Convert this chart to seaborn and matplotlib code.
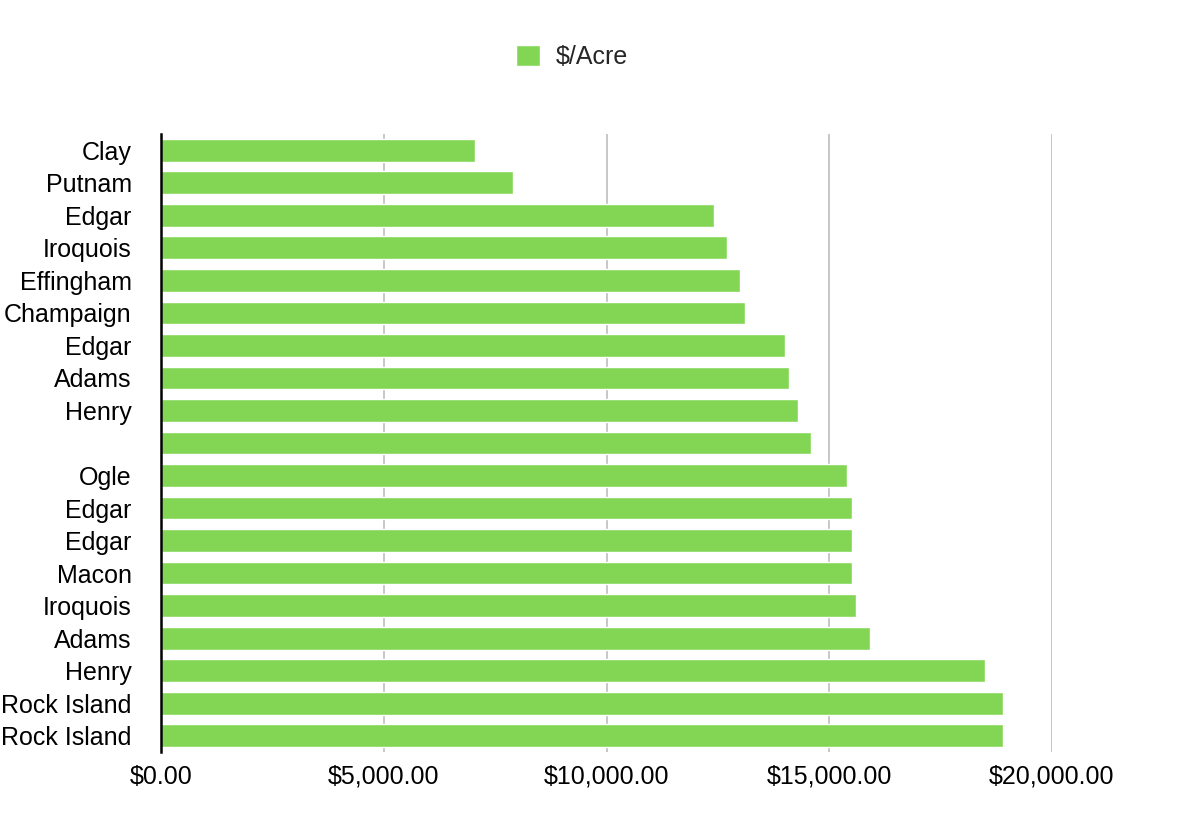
import numpy as np
import matplotlib
matplotlib.use("Agg")
import matplotlib.pyplot as plt
from matplotlib.ticker import FuncFormatter
import pandas as pd
import seaborn as sns

counties = ['Clay', 'Putnam', 'Edgar', 'Iroquois', 'Effingham', 'Champaign',
            'Edgar', 'Adams', 'Henry', '', 'Ogle', 'Edgar', 'Edgar', 'Macon',
            'Iroquois', 'Adams', 'Henry', 'Rock Island', 'Rock Island']
price_per_acre = [7045, 7900, 12410, 12700, 12990, 13100,
                  14000, 14090, 14290, 14580, 15390, 15500, 15500, 15500,
                  15590, 15910, 18490, 18890, 18890]
x_ticks = [0, 5000, 10000, 15000, 20000]
series_name = '$/Acre'

bar_color = '#83D654'

sns.set_theme(style='white')
plt.rcParams['font.family'] = ['Liberation Sans', 'DejaVu Sans']

df = pd.DataFrame({'row': [str(i) for i in range(len(counties))],
                   'value': price_per_acre})

fig = plt.figure(figsize=(12.02, 8.30), dpi=100)
ax = fig.add_axes([161 / 1202, 1 - 752 / 830, (1052 - 161) / 1202, (752 - 134) / 830])

sns.barplot(ax=ax, data=df, x='value', y='row', orient='h', color=bar_color,
            saturation=1, width=0.7, label=series_name)

ax.set_xlim(0, 20000)
ax.set_ylim(len(counties) - 0.5, -0.5)
ax.set_xticks(x_ticks)
ax.xaxis.set_major_formatter(FuncFormatter(lambda v, p: f'${v:,.2f}'))
ax.set_yticks(range(len(counties)))
ax.set_yticklabels(counties)
ax.set_xlabel('')
ax.set_ylabel('')

ax.grid(axis='x', color='#bdbdbd', linewidth=1.2)
ax.grid(axis='y', visible=False)
ax.set_axisbelow(True)
for s in ['top', 'right', 'bottom']:
    ax.spines[s].set_visible(False)
ax.spines['left'].set_color('black')
ax.spines['left'].set_linewidth(1.8)
ax.spines['left'].set_zorder(5)

ax.tick_params(axis='x', length=0, pad=9, labelsize=18, labelcolor='black')
ax.tick_params(axis='y', length=0, pad=21, labelsize=18, labelcolor='black')

if ax.get_legend() is not None:
    ax.get_legend().remove()
handles, labels = ax.get_legend_handles_labels()
fig.legend(handles[:1], labels[:1], loc='center', bbox_to_anchor=(572 / 1202, 1 - 57 / 830),
           frameon=False, fontsize=18, handlelength=0.96, handleheight=0.96,
           handletextpad=0.64)

fig.savefig('out.png', dpi=100)
